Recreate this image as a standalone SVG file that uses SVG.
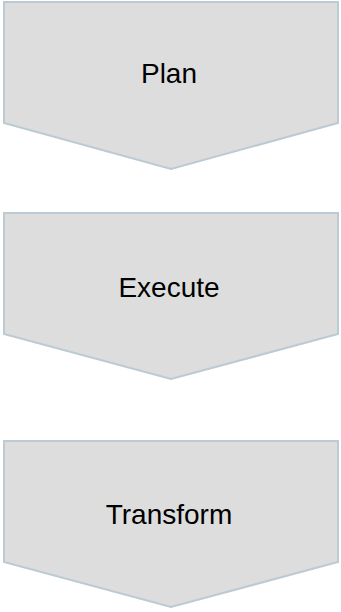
<svg xmlns="http://www.w3.org/2000/svg" width="341" height="612" viewBox="0 0 341 612">
<style>
.shape{fill:#dddddd;stroke:#bccad3;stroke-width:2;stroke-linejoin:miter}
.label{font-family:"Liberation Sans",Arial,sans-serif;font-size:28px;fill:#000;text-anchor:middle}
</style>
<rect width="341" height="612" fill="#ffffff"/>
<g id="plan">
<polygon class="shape" points="4,2 338,2 338,123 171,169 4,123"/>
<text class="label" x="169" y="83">Plan</text>
</g>
<g id="execute">
<polygon class="shape" points="4,213 338,213 338,334 171,379 4,334"/>
<text class="label" x="169" y="297">Execute</text>
</g>
<g id="transform">
<polygon class="shape" points="4,441 338,441 338,562 171,607 4,562"/>
<text class="label" x="169" y="524">Transform</text>
</g>
<g id="connectors"></g>
</svg>
